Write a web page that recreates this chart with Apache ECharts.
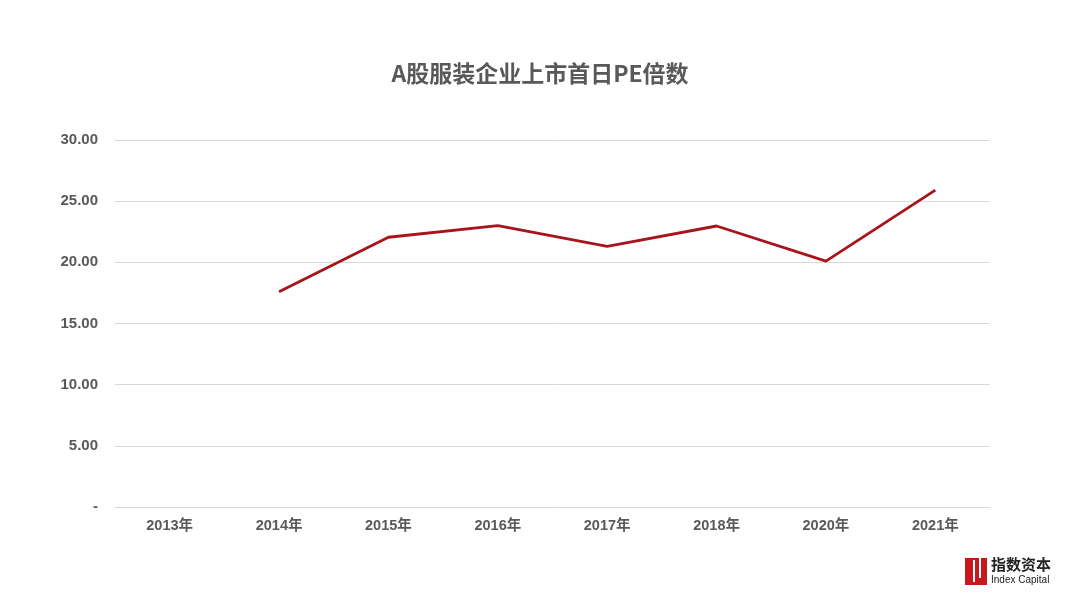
<!DOCTYPE html>
<html>
<head>
<meta charset="utf-8">
<script src="https://cdn.jsdelivr.net/npm/echarts@6/dist/echarts.min.js"></script>
<style>html,body{margin:0;padding:0;background:#fff}#c{width:1080px;height:608px}</style>
</head>
<body>
<div id="c"></div>
<script>
const categories = ['2013年','2014年','2015年','2016年','2017年','2018年','2020年','2021年'];
const peValues = [null, 17.6, 22.05, 23.0, 21.3, 22.97, 20.1, 25.9];
const yTicks = [0, 5, 10, 15, 20, 25, 30];

const chart = echarts.init(document.getElementById('c'));
chart.setOption({
  backgroundColor: '#ffffff',
  title: {
    text: 'A股服装企业上市首日PE倍数',
    left: 'center', top: 57,
    textStyle: { fontFamily: 'Noto Sans CJK SC', fontSize: 23, fontWeight: 'bold', color: '#595959' }
  },
  grid: { left: 115, right: 90, top: 140, bottom: 101, containLabel: false },
  xAxis: {
    type: 'category', data: categories, boundaryGap: true,
    axisLine: { show: true, lineStyle: { color: '#d9d9d9', width: 1 } },
    axisTick: { show: false },
    axisLabel: { color: '#595959', fontSize: 14.5, fontWeight: 'bold', margin: 12, fontFamily: '"Liberation Sans", "Noto Sans CJK SC"' }
  },
  yAxis: {
    type: 'value', min: 0, max: 30, interval: 5,
    axisLine: { show: false }, axisTick: { show: false },
    splitLine: { lineStyle: { color: '#d9d9d9', width: 1 } },
    axisLabel: {
      color: '#595959', fontSize: 15, fontWeight: 'bold', margin: 17, fontFamily: 'Liberation Sans',
      formatter: v => v === yTicks[0] ? '-' : v.toFixed(2)
    }
  },
  series: [{
    type: 'line', data: peValues, symbol: 'none', connectNulls: false,
    lineStyle: { color: '#A8141B', width: 2.8 }
  }],
  graphic: [
    { type: 'rect', left: 965, top: 558, shape: { width: 22, height: 27 }, style: { fill: '#C8161D' } },
    { type: 'rect', left: 973, top: 560, shape: { width: 2, height: 22 }, style: { fill: '#ffffff' } },
    { type: 'rect', left: 979, top: 558, shape: { width: 2, height: 20 }, style: { fill: '#ffffff' } },
    { type: 'text', left: 991, top: 557, style: { text: '指数资本', fill: '#222', font: 'bold 15px "Noto Sans CJK SC"' } },
    { type: 'text', left: 991, top: 575, style: { text: 'Index Capital', fill: '#222', font: '10px "Liberation Sans"' } }
  ]
});
</script>
</body>
</html>
